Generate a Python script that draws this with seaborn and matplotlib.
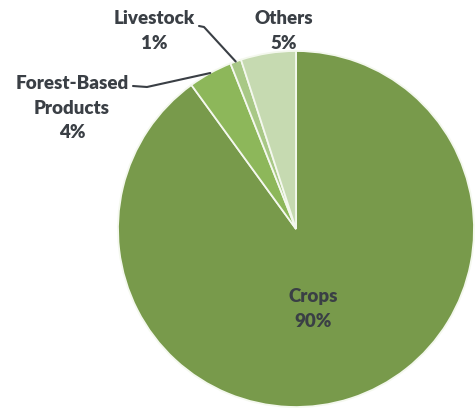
import numpy as np
import matplotlib
matplotlib.use("Agg")
import matplotlib.pyplot as plt
import seaborn as sns

categories = ["Crops", "Forest-Based\nProducts", "Livestock", "Others"]
values = [90, 4, 1, 5]
pct_labels = ["90%", "4%", "1%", "5%"]
colors = ["#789a4b", "#8db75a", "#a8c886", "#c6dab1"]

sns.set_theme(style="white")
plt.rcParams['font.family'] = ['Lato', 'DejaVu Sans']

W, H = 475, 410
fig = plt.figure(figsize=(W / 100, H / 100), dpi=100)
ax = fig.add_axes([0, 0, 1, 1])

cx, cy, r = 296, H - 230, 178
wedges, _ = ax.pie(values, colors=colors, startangle=90, counterclock=False,
                   center=(cx, cy), radius=r, frame=True,
                   wedgeprops=dict(edgecolor="#f4f8ee", linewidth=1.3))
ax.set_xlim(0, W)
ax.set_ylim(0, H)
ax.set_aspect("equal")
ax.axis("off")

txt = dict(fontsize=13.5, fontweight="heavy", color="#3a3f45", ha="center", va="center",
           linespacing=1.55)

# label positions (pixels from top-left)
label_pos = {0: (313, 309), 1: (72, 108), 2: (154, 31), 3: (284, 31)}
for i, (name, pct) in enumerate(zip(categories, pct_labels)):
    x, y = label_pos[i]
    ax.text(x, H - y, f"{name}\n{pct}", **txt)

def edge_point(i):
    cum = sum(values[:i]) + values[i] / 2
    ang = np.deg2rad(90 - 360 * cum / sum(values))
    return cx + r * np.cos(ang), cy + r * np.sin(ang)

# leader lines
ex, ey = edge_point(2)
ax.plot([199, 204, ex], [H - 27, H - 28, ey], color="#3a3f45", lw=1.5, solid_capstyle="round")
ex, ey = edge_point(1)
ax.plot([133, 147, ex], [H - 87, H - 88, ey], color="#3a3f45", lw=1.5, solid_capstyle="round")

fig.savefig("out.png", dpi=100)
